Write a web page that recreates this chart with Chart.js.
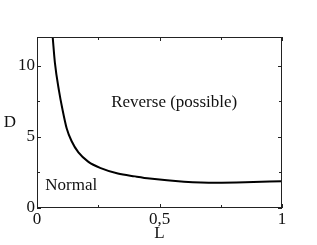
<!DOCTYPE html>
<html lang="en">
<head>
    <meta charset="UTF-8">
    <title>D versus L</title>
    <style>
        html, body { margin: 0; padding: 0; background: #fff; }
        #wrap { width: 317px; height: 245px; }
    </style>
    <script src="https://cdn.jsdelivr.net/npm/chart.js"></script>
</head>
<body>
    <div id="wrap"><canvas id="chart"></canvas></div>
    <script>
        // curve
        const lValues = [0.064, 0.073, 0.09, 0.103, 0.121, 0.141, 0.169, 0.21, 0.26, 0.33, 0.4, 0.46, 0.6, 0.73, 0.85, 1.0];
        const dValues = [12, 10.2, 8.2, 7.0, 5.6, 4.7, 3.9, 3.24, 2.8, 2.42, 2.22, 2.07, 1.85, 1.77, 1.8, 1.88];

        const xTicks = [0, 0.25, 0.5, 0.75, 1];
        const xTickLabels = ['0', '', '0,5', '', '1'];
        const yTicks = [0, 2.5, 5, 7.5, 10];
        const yTickLabels = ['0', '', '5', '', '10'];

        const regionLabels = ['Reverse (possible)', 'Normal'];
        const regionAt = [[0.56, 7.4], [0.14, 1.6]];

        const serif = '"Liberation Serif", "DejaVu Serif", serif';

        const frame = {
            id: 'frame',
            afterDraw(chart) {
                const c = chart.ctx, a = chart.chartArea;
                const xs = chart.scales.x, ys = chart.scales.y;
                c.save();
                c.strokeStyle = '#222';
                c.lineWidth = 1;
                c.strokeRect(Math.round(a.left) + 0.5, Math.round(a.top) + 0.5,
                    Math.round(a.right - a.left) - 1, Math.round(a.bottom - a.top) - 1);
                c.beginPath();
                xTicks.forEach((v, i) => {
                    const x = Math.round(xs.getPixelForValue(v)) + 0.5;
                    const len = xTickLabels[i] ? 4 : 3;
                    c.moveTo(x, a.bottom); c.lineTo(x, a.bottom - len);
                    c.moveTo(x, a.top); c.lineTo(x, a.top + len);
                });
                yTicks.forEach((v, i) => {
                    const y = Math.round(ys.getPixelForValue(v)) + 0.5;
                    const len = yTickLabels[i] ? 4 : 3;
                    c.moveTo(a.left, y); c.lineTo(a.left + len, y);
                    c.moveTo(a.right, y); c.lineTo(a.right - len, y);
                });
                c.stroke();

                c.fillStyle = '#111';
                c.font = '17px ' + serif;
                c.textAlign = 'center';
                c.textBaseline = 'middle';
                regionLabels.forEach((t, i) => {
                    c.fillText(t, xs.getPixelForValue(regionAt[i][0]), ys.getPixelForValue(regionAt[i][1]));
                });
                // axis titles
                c.fillText('D', 10, (a.top + a.bottom) / 2);
                c.fillText('L', xs.getPixelForValue(0.5), a.bottom + 26);
                c.restore();
            }
        };

        new Chart(document.getElementById('chart'), {
            type: 'scatter',
            data: {
                datasets: [{
                    data: lValues.map((l, i) => ({ x: l, y: dValues[i] })),
                    showLine: true,
                    borderColor: '#000',
                    borderWidth: 2,
                    pointRadius: 0,
                    cubicInterpolationMode: 'monotone'
                }]
            },
            options: {
                responsive: true,
                maintainAspectRatio: false,
                animation: false,
                layout: { padding: { top: 37, right: 35, left: 0, bottom: 0 } },
                plugins: { legend: { display: false }, tooltip: { enabled: false } },
                scales: {
                    x: {
                        type: 'linear', min: 0, max: 1,
                        afterBuildTicks: s => { s.ticks = xTicks.map(v => ({ value: v })); },
                        afterFit: s => { s.height = 37; },
                        grid: { display: false, drawTicks: false },
                        border: { display: false },
                        ticks: {
                            color: '#111', padding: 1, maxRotation: 0, autoSkip: false,
                            font: { family: serif, size: 17 },
                            callback: (v, i) => xTickLabels[i]
                        }
                    },
                    y: {
                        min: 0, max: 12,
                        afterBuildTicks: s => { s.ticks = yTicks.map(v => ({ value: v })); },
                        afterFit: s => { s.width = 37; },
                        grid: { display: false, drawTicks: false },
                        border: { display: false },
                        ticks: {
                            color: '#111', padding: 2, autoSkip: false,
                            font: { family: serif, size: 17 },
                            callback: (v, i) => yTickLabels[i]
                        }
                    }
                }
            },
            plugins: [frame]
        });
    </script>
</body>
</html>
